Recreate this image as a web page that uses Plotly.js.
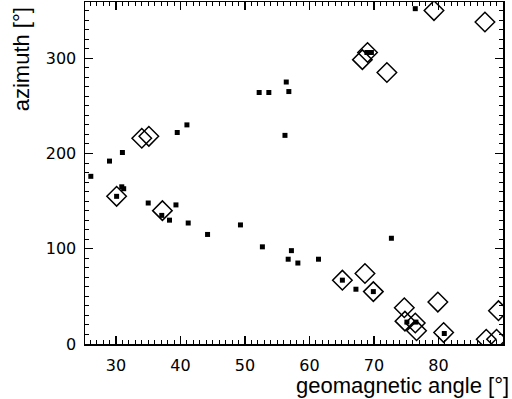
<!DOCTYPE html>
<html>
<head>
<meta charset="utf-8">
<script src="https://cdn.plot.ly/plotly-3.0.1.min.js"></script>
<style>
    html, body { margin: 0; padding: 0; background: #fff; }
    #chart { width: 512px; height: 399px; }
</style>
</head>
<body>
<div id="chart"></div>
<script>
// Small filled markers (geomagnetic angle, azimuth)
const smallAngle = [26.1, 29.0, 31.0, 30.9, 31.2, 30.1, 35.0, 37.1, 38.3, 39.3,
    39.5, 41.0, 41.2, 44.2, 49.3, 52.7, 52.2, 53.7, 56.4, 56.8,
    56.2, 56.7, 57.2, 58.2, 61.4, 65.1, 67.2, 69.9, 72.7, 68.9,
    69.6, 76.4, 75.1, 76.5, 80.9];
const smallAzimuth = [176, 192, 201, 165, 163, 155, 148, 135, 130, 146,
    222, 230, 127, 115, 125, 102, 264, 264, 275, 265,
    219, 89, 98, 85, 89, 67, 57.5, 55, 111, 306,
    306, 352, 23, 23, 11];

// Open diamonds (geomagnetic angle, azimuth)
const diamondAngle = [30.1, 34.0, 35.1, 37.2, 65.1, 68.6, 69.9, 68.2, 69.0, 72.0,
    79.3, 87.2, 74.7, 79.9, 74.8, 76.4, 76.6, 80.8, 87.4, 89.0,
    89.3];
const diamondAzimuth = [155, 216, 218, 140, 67, 74, 55, 298.5, 306, 285,
    350, 338, 38, 44, 24, 22, 14, 12, 5, 5,
    35];

const tickFont = { family: 'DejaVu Sans, sans-serif', size: 16, color: '#000' };
const titleFont = { family: 'Liberation Sans, Arial, sans-serif', size: 22, color: '#000' };

const traces = [
    {
        type: 'scatter',
        mode: 'markers',
        x: diamondAngle,
        y: diamondAzimuth,
        marker: {
            symbol: 'diamond-open',
            size: 15,
            color: '#000',
            line: { color: '#000', width: 1.5 }
        },
        hoverinfo: 'skip'
    },
    {
        type: 'scatter',
        mode: 'markers',
        x: smallAngle,
        y: smallAzimuth,
        marker: {
            symbol: 'square',
            size: 5,
            color: '#000'
        },
        hoverinfo: 'skip'
    }
];

const layout = {
    width: 512,
    height: 399,
    margin: { l: 85, r: 9, t: 2, b: 55 },
    paper_bgcolor: '#fff',
    plot_bgcolor: '#fff',
    showlegend: false,
    xaxis: {
        range: [25.2, 90],
        tickvals: [30, 40, 50, 60, 70, 80, 90],
        ticks: 'inside',
        ticklen: 8,
        tickwidth: 1.2,
        tickcolor: '#000',
        minor: { dtick: 1, ticks: 'inside', ticklen: 4, tickwidth: 1, tickcolor: '#000' },
        showline: true,
        linecolor: '#000',
        linewidth: 1.5,
        mirror: 'allticks',
        showgrid: false,
        zeroline: false,
        tickfont: tickFont,
        ticklabelstandoff: 6
    },
    yaxis: {
        range: [0, 359],
        tickvals: [0, 100, 200, 300],
        ticks: 'inside',
        ticklen: 8,
        tickwidth: 1.2,
        tickcolor: '#000',
        minor: { dtick: 10, ticks: 'inside', ticklen: 4, tickwidth: 1, tickcolor: '#000' },
        showline: true,
        linecolor: '#000',
        linewidth: 1.5,
        mirror: 'allticks',
        showgrid: false,
        zeroline: false,
        tickfont: tickFont,
        ticklabelstandoff: 4
    },
    annotations: [
        {
            text: 'geomagnetic angle [°]',
            xref: 'paper', yref: 'paper',
            x: 1.02, y: -0.12,
            xanchor: 'right', yanchor: 'middle',
            showarrow: false,
            font: titleFont
        },
        {
            text: 'azimuth [°]',
            textangle: -90,
            xref: 'paper', yref: 'paper',
            x: -0.151, y: 0.99,
            xanchor: 'center', yanchor: 'top',
            showarrow: false,
            font: titleFont
        }
    ]
};

Plotly.newPlot('chart', traces, layout, { staticPlot: true });
</script>
</body>
</html>
